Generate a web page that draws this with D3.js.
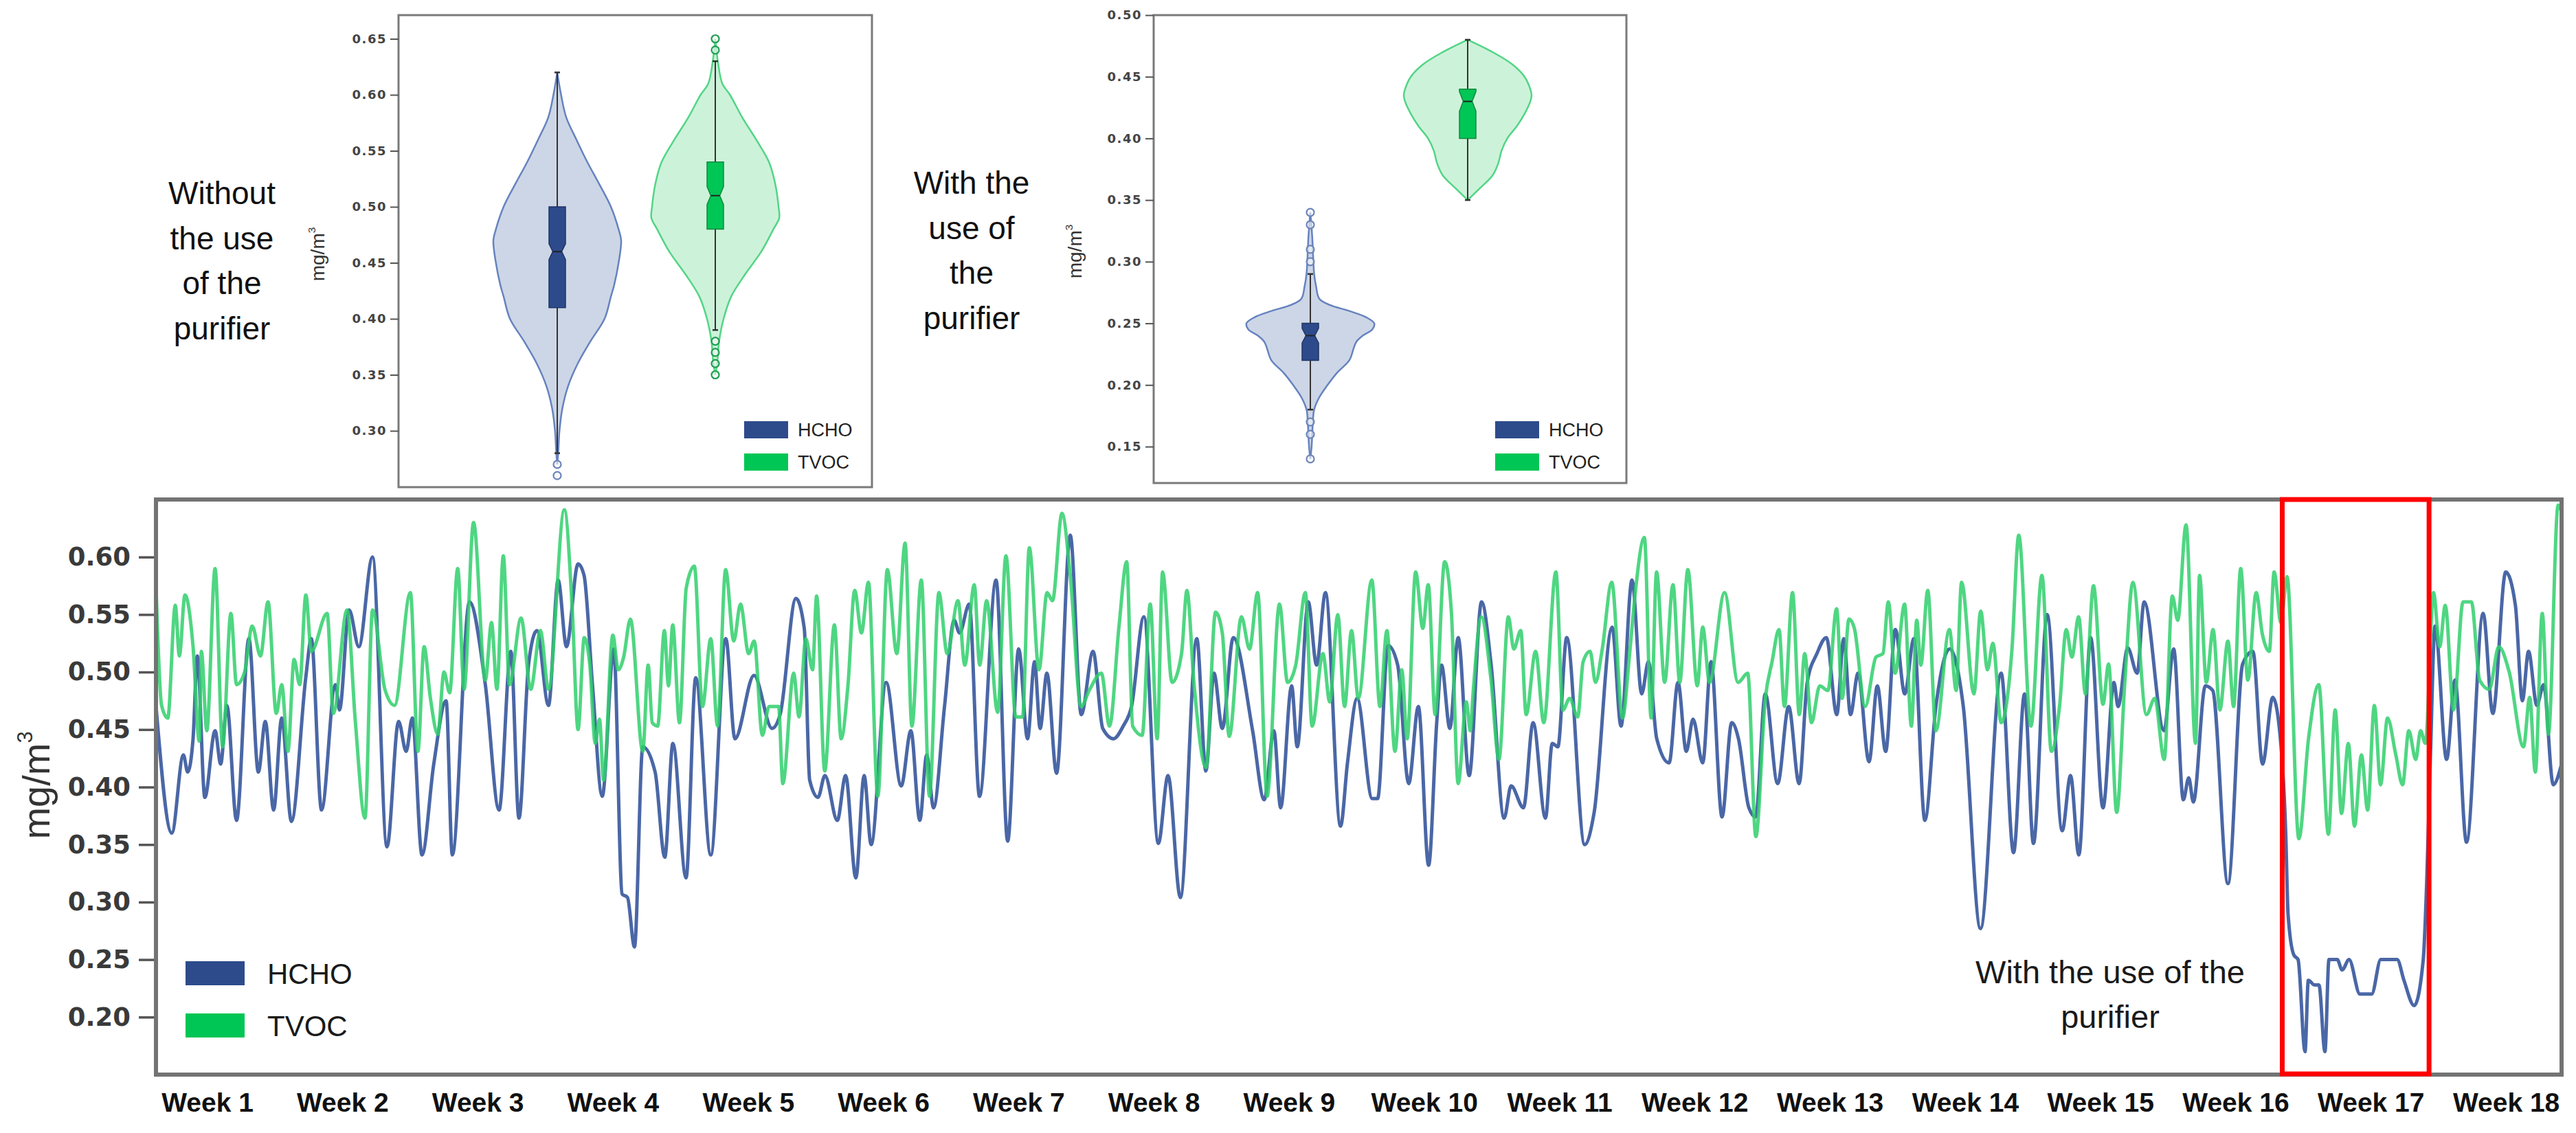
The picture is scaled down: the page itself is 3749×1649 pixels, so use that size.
<!doctype html>
<html lang="en">
<head>
<meta charset="utf-8">
<script src="https://d3js.org/d3.v7.min.js"></script>
<title>HCHO and TVOC with and without the purifier</title>
<style>
  body { margin: 0; background: #fff; }
  svg { display: block; }
</style>
</head>
<body>
<svg id="chart" width="3749" height="1649"></svg>
<script>
// ---------- data ----------
const weeks = d3.range(1, 19).map(d => "Week " + d);
const mainTicks = [0.20, 0.25, 0.30, 0.35, 0.40, 0.45, 0.50, 0.55, 0.60];
const purifierDays = [110.9, 118.5];

// [day, mg/m3]
const hcho = [[0.83,0.471],[1.65,0.360],[2.25,0.428],[2.47,0.413],[2.75,0.442],[2.97,0.514],[3.36,0.391],[3.89,0.449],[4.18,0.420],[4.50,0.471],[5.00,0.371],[5.64,0.529],[6.13,0.413],[6.49,0.457],[6.92,0.380],[7.34,0.460],[7.84,0.370],[8.59,0.496],[8.87,0.529],[9.40,0.380],[10.12,0.489],[10.33,0.467],[10.83,0.554],[11.33,0.522],[12.04,0.600],[12.79,0.348],[13.39,0.457],[13.78,0.431],[14.10,0.460],[14.60,0.341],[15.21,0.420],[15.85,0.475],[16.17,0.341],[17.06,0.561],[17.88,0.489],[18.59,0.380],[19.20,0.518],[19.62,0.373],[20.12,0.507],[20.55,0.536],[21.15,0.471],[21.65,0.580],[22.08,0.522],[22.68,0.594],[22.99,0.584],[23.43,0.488],[23.93,0.392],[24.53,0.520],[24.96,0.307],[25.24,0.304],[25.60,0.261],[26.03,0.435],[26.67,0.413],[27.17,0.339],[27.59,0.438],[28.27,0.321],[28.77,0.495],[29.55,0.341],[30.33,0.529],[30.80,0.442],[31.79,0.497],[32.72,0.451],[33.14,0.463],[33.96,0.564],[34.39,0.538],[34.67,0.406],[35.10,0.391],[35.46,0.410],[36.10,0.371],[36.53,0.410],[37.06,0.321],[37.49,0.410],[37.85,0.350],[38.63,0.491],[39.41,0.401],[39.91,0.449],[40.37,0.371],[40.73,0.428],[41.08,0.382],[41.65,0.470],[42.15,0.545],[42.43,0.534],[42.93,0.559],[43.46,0.392],[44.32,0.580],[44.92,0.353],[45.49,0.520],[45.95,0.442],[46.31,0.509],[46.60,0.451],[46.95,0.499],[47.45,0.412],[48.16,0.619],[48.73,0.463],[49.34,0.518],[49.84,0.451],[50.40,0.442],[50.90,0.453],[51.33,0.470],[51.97,0.548],[52.72,0.351],[53.22,0.410],[53.86,0.304],[54.71,0.529],[55.18,0.414],[55.60,0.499],[56.03,0.451],[56.60,0.530],[57.60,0.449],[58.20,0.389],[58.70,0.449],[59.05,0.382],[59.62,0.488],[59.91,0.435],[60.48,0.561],[60.91,0.506],[61.37,0.569],[62.15,0.366],[62.51,0.421],[63.01,0.477],[63.79,0.390],[64.07,0.390],[64.61,0.523],[65.11,0.506],[65.68,0.403],[66.18,0.470],[66.71,0.332],[67.13,0.456],[67.38,0.506],[67.81,0.451],[68.24,0.530],[68.81,0.410],[69.45,0.561],[69.95,0.506],[70.62,0.373],[70.98,0.401],[71.62,0.382],[72.12,0.456],[72.76,0.373],[73.11,0.438],[73.40,0.435],[73.86,0.530],[74.79,0.350],[75.28,0.378],[76.21,0.539],[76.67,0.453],[77.24,0.580],[77.74,0.481],[78.09,0.509],[78.52,0.442],[79.16,0.421],[79.62,0.491],[80.05,0.431],[80.40,0.459],[80.90,0.421],[81.33,0.509],[81.90,0.374],[82.40,0.456],[82.75,0.442],[83.29,0.382],[83.64,0.374],[84.14,0.481],[84.78,0.403],[85.35,0.470],[85.89,0.403],[86.31,0.491],[86.81,0.516],[87.30,0.530],[87.84,0.463],[88.20,0.529],[88.55,0.463],[88.94,0.499],[89.51,0.422],[89.94,0.488],[90.37,0.431],[90.87,0.537],[91.36,0.481],[91.83,0.529],[92.40,0.371],[92.97,0.470],[93.68,0.520],[94.39,0.470],[95.28,0.277],[96.35,0.499],[96.99,0.343],[97.56,0.481],[98.02,0.351],[98.73,0.550],[99.51,0.362],[99.94,0.410],[100.37,0.341],[100.98,0.530],[101.62,0.382],[102.19,0.491],[102.40,0.470],[102.90,0.521],[103.39,0.499],[103.75,0.561],[104.78,0.449],[105.28,0.520],[105.78,0.389],[106.06,0.408],[106.30,0.387],[106.92,0.488],[107.30,0.484],[108.09,0.316],[108.85,0.507],[109.38,0.518],[109.88,0.420],[110.41,0.478],[110.84,0.435],[111.08,0.360],[111.20,0.290],[111.50,0.254],[111.72,0.250],[112.08,0.170],[112.25,0.232],[112.57,0.228],[112.80,0.228],[113.11,0.170],[113.32,0.250],[113.75,0.250],[114.00,0.241],[114.36,0.250],[114.92,0.220],[115.53,0.220],[116.00,0.250],[116.85,0.250],[117.20,0.232],[117.73,0.210],[118.20,0.250],[118.38,0.318],[118.56,0.420],[118.81,0.540],[119.41,0.424],[119.84,0.493],[120.44,0.352],[121.30,0.551],[121.80,0.464],[122.47,0.587],[122.97,0.558],[123.33,0.475],[123.65,0.518],[124.08,0.471],[124.43,0.489],[124.93,0.402],[125.36,0.420]];

const tvoc = [[0.83,0.576],[1.12,0.471],[1.44,0.460],[1.83,0.558],[2.04,0.514],[2.33,0.567],[2.75,0.522],[3.07,0.440],[3.18,0.518],[3.46,0.449],[3.89,0.590],[4.28,0.435],[4.71,0.551],[5.00,0.489],[5.42,0.500],[5.81,0.540],[6.24,0.514],[6.63,0.561],[7.06,0.464],[7.34,0.489],[7.66,0.431],[7.98,0.511],[8.27,0.489],[8.59,0.567],[8.87,0.518],[9.69,0.551],[10.01,0.464],[10.72,0.554],[11.15,0.457],[11.65,0.373],[12.04,0.554],[12.68,0.485],[13.18,0.471],[14.00,0.569],[14.39,0.431],[14.71,0.522],[15.03,0.478],[15.42,0.446],[15.74,0.500],[16.03,0.482],[16.45,0.590],[16.78,0.485],[17.27,0.630],[17.88,0.493],[18.20,0.543],[18.48,0.485],[18.81,0.601],[19.13,0.489],[19.73,0.547],[20.23,0.485],[20.73,0.536],[21.15,0.485],[21.97,0.641],[22.37,0.558],[22.68,0.450],[23.00,0.530],[23.29,0.506],[23.57,0.438],[23.79,0.459],[24.00,0.406],[24.48,0.532],[24.76,0.502],[25.04,0.513],[25.39,0.546],[26.03,0.431],[26.31,0.506],[26.52,0.456],[26.80,0.453],[27.15,0.536],[27.36,0.488],[27.58,0.541],[27.93,0.456],[28.28,0.573],[28.70,0.592],[29.12,0.470],[29.55,0.529],[29.90,0.453],[30.32,0.589],[30.74,0.527],[31.09,0.559],[31.51,0.516],[31.80,0.527],[32.22,0.445],[32.57,0.470],[33.06,0.470],[33.28,0.403],[33.84,0.499],[34.12,0.461],[34.47,0.529],[34.82,0.502],[35.03,0.566],[35.45,0.414],[35.95,0.541],[36.30,0.442],[36.65,0.488],[37.00,0.571],[37.35,0.534],[37.71,0.578],[38.20,0.392],[38.69,0.589],[39.18,0.516],[39.61,0.612],[39.96,0.453],[40.45,0.580],[40.87,0.392],[41.36,0.569],[41.79,0.516],[42.35,0.562],[42.70,0.506],[43.19,0.576],[43.47,0.506],[43.83,0.562],[44.40,0.465],[44.83,0.601],[45.34,0.461],[45.69,0.461],[46.04,0.608],[46.54,0.502],[46.96,0.569],[47.24,0.562],[47.73,0.638],[48.16,0.584],[48.72,0.470],[49.14,0.484],[49.77,0.499],[50.19,0.453],[50.69,0.541],[51.08,0.596],[51.39,0.453],[51.88,0.445],[52.30,0.559],[52.66,0.442],[52.94,0.587],[53.43,0.491],[53.92,0.516],[54.20,0.571],[54.56,0.491],[55.19,0.417],[55.68,0.552],[56.03,0.534],[56.39,0.444],[57.02,0.548],[57.44,0.520],[57.86,0.569],[58.35,0.392],[58.99,0.559],[59.41,0.491],[59.83,0.506],[60.33,0.569],[60.68,0.453],[61.24,0.516],[61.59,0.474],[62.01,0.550],[62.36,0.470],[62.72,0.536],[63.07,0.477],[63.77,0.580],[64.19,0.470],[64.55,0.536],[64.97,0.431],[65.32,0.502],[65.60,0.442],[66.04,0.587],[66.41,0.538],[66.69,0.576],[67.05,0.463],[67.54,0.596],[67.89,0.552],[68.24,0.403],[68.66,0.474],[68.87,0.449],[69.01,0.481],[69.44,0.548],[69.93,0.495],[70.35,0.424],[70.84,0.548],[71.12,0.520],[71.48,0.536],[71.76,0.463],[72.25,0.518],[72.67,0.456],[73.30,0.587],[73.66,0.467],[74.01,0.477],[74.43,0.461],[74.71,0.509],[75.07,0.518],[75.35,0.491],[75.70,0.520],[76.19,0.578],[76.75,0.460],[77.10,0.513],[77.39,0.566],[77.88,0.617],[78.23,0.460],[78.51,0.587],[78.93,0.491],[79.36,0.576],[79.71,0.491],[80.13,0.589],[80.62,0.488],[80.90,0.539],[81.25,0.491],[82.03,0.569],[82.73,0.491],[83.23,0.499],[83.65,0.357],[84.14,0.477],[84.49,0.509],[84.85,0.537],[85.13,0.470],[85.55,0.569],[85.90,0.463],[86.18,0.516],[86.53,0.456],[86.96,0.488],[87.38,0.484],[87.83,0.555],[88.12,0.477],[88.47,0.546],[88.75,0.538],[89.31,0.470],[89.87,0.513],[90.23,0.516],[90.51,0.561],[90.86,0.499],[91.35,0.559],[91.70,0.453],[91.98,0.545],[92.19,0.506],[92.55,0.571],[92.97,0.449],[93.67,0.537],[94.02,0.484],[94.30,0.578],[94.94,0.481],[95.29,0.553],[95.64,0.502],[95.92,0.525],[96.35,0.456],[96.91,0.520],[97.26,0.619],[97.89,0.453],[98.46,0.584],[98.95,0.431],[99.37,0.470],[99.72,0.537],[100.01,0.513],[100.36,0.548],[100.71,0.481],[101.13,0.575],[101.62,0.472],[101.91,0.507],[102.33,0.378],[102.75,0.491],[103.17,0.578],[103.87,0.463],[104.30,0.477],[104.79,0.424],[105.21,0.566],[105.49,0.545],[105.92,0.628],[106.41,0.438],[106.62,0.584],[106.97,0.491],[107.32,0.537],[107.67,0.467],[108.09,0.527],[108.38,0.470],[108.75,0.590],[109.12,0.493],[109.55,0.569],[109.87,0.533],[110.23,0.518],[110.48,0.587],[110.83,0.543],[111.15,0.583],[111.76,0.355],[112.26,0.442],[112.79,0.489],[113.29,0.359],[113.64,0.467],[113.97,0.377],[114.32,0.438],[114.64,0.366],[115.00,0.428],[115.32,0.380],[115.67,0.471],[115.99,0.402],[116.35,0.460],[116.78,0.428],[117.13,0.402],[117.45,0.449],[117.81,0.424],[118.06,0.449],[118.31,0.438],[118.73,0.569],[119.05,0.522],[119.34,0.558],[119.77,0.467],[120.26,0.561],[120.69,0.561],[121.12,0.493],[121.62,0.485],[122.11,0.522],[122.65,0.500],[123.39,0.435],[123.71,0.478],[124.00,0.413],[124.36,0.551],[124.68,0.446],[125.18,0.645],[125.36,0.640]];

// violin panels
const gases = ["HCHO", "TVOC"];
const noPurTicks = [0.30, 0.35, 0.40, 0.45, 0.50, 0.55, 0.60, 0.65];
const purTicks = [0.15, 0.20, 0.25, 0.30, 0.35, 0.40, 0.45, 0.50];

// [value, relative width]
const noPurHchoShape = [[0.27,0],[0.28,0.015],[0.30,0.035],[0.32,0.08],[0.34,0.17],[0.36,0.32],[0.38,0.52],[0.40,0.74],[0.42,0.84],[0.43,0.89],[0.45,0.96],[0.47,1.0],[0.48,0.96],[0.50,0.84],[0.52,0.66],[0.54,0.47],[0.56,0.30],[0.58,0.14],[0.60,0.06],[0.62,0]];
const noPurTvocShape = [[0.35,0],[0.36,0.03],[0.38,0.06],[0.40,0.13],[0.42,0.25],[0.44,0.47],[0.46,0.72],[0.48,0.91],[0.49,1.0],[0.50,0.99],[0.52,0.94],[0.54,0.84],[0.56,0.64],[0.58,0.42],[0.60,0.23],[0.61,0.11],[0.63,0.04],[0.65,0]];
const purHchoShape = [[0.14,0],[0.15,0.02],[0.17,0.04],[0.18,0.06],[0.19,0.14],[0.20,0.27],[0.21,0.42],[0.22,0.61],[0.23,0.68],[0.235,0.72],[0.24,0.82],[0.245,0.97],[0.25,1.0],[0.255,0.87],[0.26,0.61],[0.265,0.30],[0.27,0.14],[0.28,0.09],[0.29,0.06],[0.32,0.03],[0.34,0]];
const purTvocShape = [[0.35,0],[0.36,0.20],[0.37,0.39],[0.38,0.48],[0.39,0.53],[0.40,0.62],[0.41,0.77],[0.42,0.89],[0.43,0.98],[0.435,1.0],[0.44,0.98],[0.45,0.89],[0.46,0.70],[0.47,0.39],[0.48,0]];

// [q1, median, q3]
const noPurHchoBox = [0.41, 0.46, 0.50];
const noPurTvocBox = [0.48, 0.51, 0.54];
const purHchoBox = [0.22, 0.24, 0.25];
const purTvocBox = [0.40, 0.43, 0.44];
// [low, high]
const noPurHchoWhisker = [0.28, 0.62];
const noPurTvocWhisker = [0.39, 0.63];
const purHchoWhisker = [0.18, 0.29];
const purTvocWhisker = [0.35, 0.48];
const noPurHchoOut = [0.26, 0.27];
const noPurTvocOut = [0.35, 0.36, 0.37, 0.38, 0.64, 0.65];
const purHchoOut = [0.14, 0.16, 0.17, 0.30, 0.31, 0.33, 0.34];
const purTvocOut = [];

// ---------- drawing ----------
const colors = {
  HCHO: { line: "#3b5a9e", dark: "#2d4b8b", edge: "#1f3566", fill: "#cdd6e6", stroke: "#6683bf", dot: "#6d85b8" },
  TVOC: { line: "#30cf6c", dark: "#00c655", edge: "#0d8a3d", fill: "#cdf2da", stroke: "#52d585", dot: "#1f9e4f" }
};
const sans = "'Liberation Sans', Arial, sans-serif";
const tickFont = "'DejaVu Sans', Verdana, sans-serif";

const svg = d3.select("#chart");
svg.append("rect").attr("width", 3749).attr("height", 1649).attr("fill", "#fff");

function unitLabel(g, x, y, size) {
  const t = g.append("text")
    .attr("transform", `translate(${x},${y}) rotate(-90)`)
    .attr("text-anchor", "middle")
    .style("font-family", sans)
    .style("font-size", size + "px")
    .style("fill", "#333");
  t.append("tspan").text("mg/m");
  t.append("tspan").attr("dy", -size * 0.45).style("font-size", (size * 0.55) + "px").text("3");
}

function notchPath(cx, y, box, notch, w, wn) {
  const [q1, med, q3] = box;
  const L = cx - w / 2, R = cx + w / 2, l = cx - wn / 2, r = cx + wn / 2;
  const p = d3.path();
  p.moveTo(L, y(q3)); p.lineTo(R, y(q3));
  p.lineTo(R, y(med + notch)); p.lineTo(r, y(med)); p.lineTo(R, y(med - notch));
  p.lineTo(R, y(q1)); p.lineTo(L, y(q1));
  p.lineTo(L, y(med - notch)); p.lineTo(l, y(med)); p.lineTo(L, y(med + notch));
  p.closePath();
  return p.toString();
}

function drawPanel(cfg) {
  const g = svg.append("g");
  const y = d3.scaleLinear().domain(cfg.domain).range(cfg.yRange);
  const x = d3.scalePoint().domain(gases).range(cfg.xRange);
  const w = d3.scaleLinear().domain([0, 1]).range([0, 93]);

  g.append("rect")
    .attr("x", cfg.frame[0]).attr("y", cfg.frame[1])
    .attr("width", cfg.frame[2]).attr("height", cfg.frame[3])
    .attr("fill", "none").attr("stroke", "#7a7a7a").attr("stroke-width", 3);

  // y axis on the frame edge
  const axis = d3.axisLeft(y).tickValues(cfg.ticks).tickFormat(d3.format(".2f")).tickSize(12).tickPadding(5);
  const ax = g.append("g").attr("transform", `translate(${cfg.frame[0]},0)`).call(axis);
  ax.select(".domain").remove();
  ax.selectAll("line").attr("stroke", "#555").attr("stroke-width", 2);
  ax.selectAll("text")
    .style("font-family", tickFont).style("font-weight", "bold")
    .style("font-size", "18px").style("letter-spacing", "1.5px").style("fill", "#444");

  unitLabel(g, cfg.unitX, cfg.unitY, 28);

  // side caption
  cfg.caption.forEach((line, i) => {
    g.append("text")
      .attr("x", cfg.captionX).attr("y", cfg.captionY + i * 65.5)
      .attr("text-anchor", "middle")
      .style("font-family", sans).style("font-size", "46px").style("fill", "#111")
      .text(line);
  });

  const area = d3.area()
    .y(d => y(d[0]))
    .x0(d => x.cx - w(d[1]))
    .x1(d => x.cx + w(d[1]))
    .curve(d3.curveCatmullRom);

  cfg.items.forEach(it => {
    const cx = x(it.gas);
    const c = colors[it.gas];
    g.append("path")
      .attr("d", d3.area().y(d => y(d[0])).x0(d => cx - w(d[1])).x1(d => cx + w(d[1])).curve(d3.curveCatmullRom)(it.shape))
      .attr("fill", c.fill).attr("stroke", c.stroke).attr("stroke-width", 2.5);
    // whisker
    g.append("line")
      .attr("x1", cx).attr("x2", cx)
      .attr("y1", y(it.whisker[0])).attr("y2", y(it.whisker[1]))
      .attr("stroke", "#333").attr("stroke-width", 2);
    it.whisker.forEach(v => {
      g.append("line")
        .attr("x1", cx - 4).attr("x2", cx + 4)
        .attr("y1", y(v)).attr("y2", y(v))
        .attr("stroke", "#333").attr("stroke-width", 2.5);
    });
    // notched box
    g.append("path")
      .attr("d", notchPath(cx, y, it.box, it.notch, 24, 13))
      .attr("fill", c.dark).attr("stroke", c.edge).attr("stroke-width", 1.5);
    g.append("line")
      .attr("x1", cx - 6.5).attr("x2", cx + 6.5)
      .attr("y1", y(it.box[1])).attr("y2", y(it.box[1]))
      .attr("stroke", "#222").attr("stroke-width", 2);
    // outliers
    g.selectAll(null).data(it.out).enter().append("circle")
      .attr("cx", cx).attr("cy", d => y(d)).attr("r", 5.5)
      .attr("fill", "#f4f6f9").attr("fill-opacity", 0.6)
      .attr("stroke", c.dot).attr("stroke-width", 2.2);
  });

  // legend
  gases.forEach((gas, i) => {
    g.append("rect")
      .attr("x", cfg.legendX).attr("y", 613 + i * 47)
      .attr("width", 64).attr("height", 25)
      .attr("fill", colors[gas].dark);
    g.append("text")
      .attr("x", cfg.legendX + 78).attr("y", 626 + i * 47)
      .attr("dominant-baseline", "central")
      .style("font-family", sans).style("font-size", "27px").style("fill", "#222")
      .text(gas);
  });
}

drawPanel({
  frame: [580, 22, 689, 687], domain: [0.30, 0.65], yRange: [627, 56.5], ticks: noPurTicks,
  xRange: [811, 1041], unitX: 472, unitY: 370, legendX: 1083,
  caption: ["Without", "the use", "of the", "purifier"], captionX: 323, captionY: 297,
  items: [
    { gas: "HCHO", shape: noPurHchoShape, box: noPurHchoBox, notch: 0.007, whisker: noPurHchoWhisker, out: noPurHchoOut },
    { gas: "TVOC", shape: noPurTvocShape, box: noPurTvocBox, notch: 0.008, whisker: noPurTvocWhisker, out: noPurTvocOut }
  ]
});

drawPanel({
  frame: [1679, 22, 688, 681], domain: [0.15, 0.50], yRange: [650, 22], ticks: purTicks,
  xRange: [1907, 2136], unitX: 1574, unitY: 366, legendX: 2176,
  caption: ["With the", "use of", "the", "purifier"], captionX: 1414, captionY: 282,
  items: [
    { gas: "HCHO", shape: purHchoShape, box: purHchoBox, notch: 0.006, whisker: purHchoWhisker, out: purHchoOut },
    { gas: "TVOC", shape: purTvocShape, box: purTvocBox, notch: 0.008, whisker: purTvocWhisker, out: purTvocOut }
  ]
});

// ---------- main time series ----------
const plot = { left: 227, right: 3728, top: 727, bottom: 1564 };
const x = d3.scaleLinear().domain([0.83, 125.36]).range([plot.left, plot.right]);
const y = d3.scaleLinear().domain([0.15, 0.65]).range([plot.bottom, plot.top]);

svg.append("clipPath").attr("id", "plotClip")
  .append("rect").attr("x", plot.left).attr("y", plot.top)
  .attr("width", plot.right - plot.left).attr("height", plot.bottom - plot.top);

const line = d3.line().x(d => x(d[0])).y(d => y(d[1])).curve(d3.curveMonotoneX);
const lines = svg.append("g").attr("clip-path", "url(#plotClip)");
lines.append("path").datum(hcho).attr("d", line)
  .attr("fill", "none").attr("stroke", colors.HCHO.line).attr("stroke-width", 5)
  .attr("stroke-linejoin", "round").attr("stroke-opacity", 0.92);
lines.append("path").datum(tvoc).attr("d", line)
  .attr("fill", "none").attr("stroke", colors.TVOC.line).attr("stroke-width", 5)
  .attr("stroke-linejoin", "round").attr("stroke-opacity", 0.85);

// frame
svg.append("rect")
  .attr("x", plot.left).attr("y", plot.top)
  .attr("width", plot.right - plot.left).attr("height", plot.bottom - plot.top)
  .attr("fill", "none").attr("stroke", "#737373").attr("stroke-width", 6);

// y axis
const yAxis = d3.axisLeft(y).tickValues(mainTicks).tickFormat(d3.format(".2f")).tickSize(22).tickPadding(12);
const yg = svg.append("g").attr("transform", `translate(${plot.left - 3},0)`).call(yAxis);
yg.select(".domain").remove();
yg.selectAll("line").attr("stroke", "#555").attr("stroke-width", 3.5);
yg.selectAll("text")
  .style("font-family", tickFont).style("font-weight", "bold")
  .style("font-size", "37px").style("fill", "#3a3a3a");

unitLabel(svg, 72, 1143, 56);

// week labels
svg.append("g").selectAll("text").data(weeks).enter().append("text")
  .attr("x", (d, i) => x(i * 7 + 3.5))
  .attr("y", 1618)
  .attr("text-anchor", "middle")
  .style("font-family", sans).style("font-weight", "bold")
  .style("font-size", "39px").style("fill", "#111")
  .text(d => d);

// purifier period
svg.append("rect")
  .attr("x", x(purifierDays[0])).attr("y", plot.top)
  .attr("width", x(purifierDays[1]) - x(purifierDays[0]))
  .attr("height", plot.bottom - plot.top - 1)
  .attr("fill", "none").attr("stroke", "#ff0000").attr("stroke-width", 7);

svg.append("text").attr("x", 3071).attr("y", 1431).attr("text-anchor", "middle")
  .style("font-family", sans).style("font-size", "47px").style("fill", "#1a1a1a")
  .text("With the use of the");
svg.append("text").attr("x", 3071).attr("y", 1496).attr("text-anchor", "middle")
  .style("font-family", sans).style("font-size", "47px").style("fill", "#1a1a1a")
  .text("purifier");

// legend
gases.forEach((gas, i) => {
  svg.append("rect")
    .attr("x", 270).attr("y", 1399 + i * 76)
    .attr("width", 86).attr("height", 35)
    .attr("fill", colors[gas].dark);
  svg.append("text")
    .attr("x", 389).attr("y", 1432 + i * 76)
    .style("font-family", sans).style("font-size", "42px").style("fill", "#1a1a1a")
    .text(gas);
});
</script>
</body>
</html>
